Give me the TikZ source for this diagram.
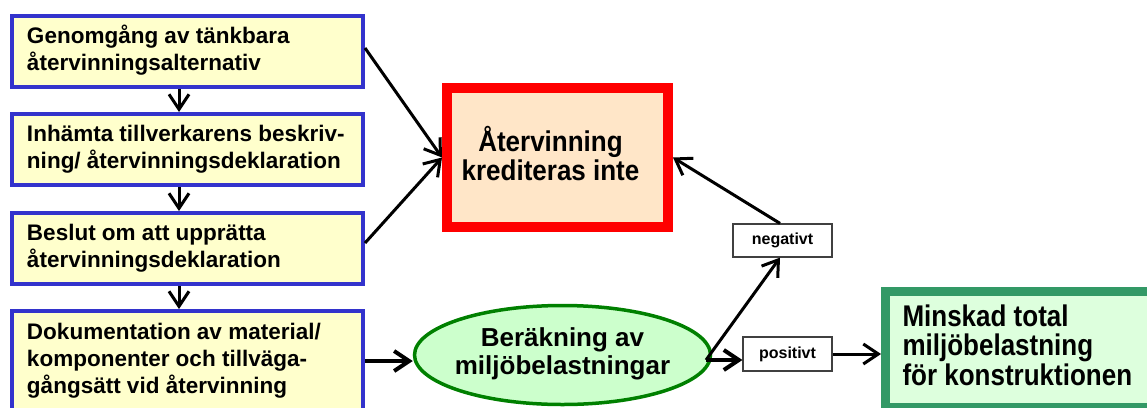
\documentclass[tikz,border=0pt]{standalone}
\usepackage{fontspec}
\setmainfont{Liberation Sans}
\usepackage{graphicx}
\usetikzlibrary{arrows.meta,shapes.geometric,calc}
\definecolor{bluebd}{RGB}{51,51,204}
\definecolor{yellowbg}{RGB}{255,255,204}
\definecolor{redbd}{RGB}{255,0,0}
\definecolor{peach}{RGB}{255,230,200}
\definecolor{ellbd}{RGB}{0,128,0}
\definecolor{ellbg}{RGB}{204,255,204}
\definecolor{grbd}{RGB}{51,153,102}
\definecolor{grbg}{RGB}{221,255,221}
\definecolor{tagbd}{RGB}{64,64,64}
\newcommand\bluetext[1]{\raisebox{-2pt}{\makebox[321pt][l]{\begin{tabular}{@{}l@{}}#1\end{tabular}}}}
\begin{document}
\begin{tikzpicture}[x=1pt,y=-1pt,
  stepbox/.style={draw=bluebd, fill=yellowbg, line width=4pt, minimum width=351pt,
    minimum height=71pt, inner xsep=15pt, inner ysep=0pt,
    font=\fontsize{22.5}{27}\selectfont\bfseries},
  redbox/.style={draw=redbd, fill=peach, line width=10pt, minimum width=221pt,
    minimum height=139pt, inner sep=0pt, font=\fontsize{26}{26.5}\selectfont\bfseries},
  ellbox/.style={ellipse, draw=ellbd, fill=ellbg, line width=3.5pt, minimum width=296pt,
    minimum height=99pt, inner sep=0pt, font=\fontsize{26}{27.5}\selectfont\bfseries},
  grbox/.style={draw=grbd, fill=grbg, line width=9pt, minimum width=294.5pt,
    minimum height=115.5pt, inner xsep=17pt, inner ysep=0pt,
    font=\fontsize{26}{24}\selectfont\bfseries},
  tagbox/.style={draw=tagbd, fill=white, line width=1.2pt, inner sep=0pt,
    font=\fontsize{16}{19}\selectfont\bfseries},
  arr/.style={line width=3pt, -{Straight Barb[length=15pt,width=20pt]}},
  arrthick/.style={line width=4pt, -{Straight Barb[length=15pt,width=20pt]}}
]
\useasboundingbox (0,0) rectangle (1147,407);
\clip (0,0) rectangle (1147,407);

% left column
\node[stepbox] (b1) at (187.5,51.5) {\bluetext{Genomgång av tänkbara\\återvinningsalternativ}};
\node[stepbox] (b2) at (187.5,149.5) {\bluetext{Inhämta tillverkarens beskriv-\\ning/ återvinningsdeklaration}};
\node[stepbox] (b3) at (187.5,248.5) {\bluetext{Beslut om att upprätta\\återvinningsdeklaration}};
\node[stepbox, minimum height=100pt] (b4) at (187.5,361) {\bluetext{Dokumentation av material/\\komponenter och tillväga-\\gångsätt vid återvinning}};

% red box
\node[redbox] (red) at (557.5,157.5) {\raisebox{-7pt}{\scalebox{1}[1.1]{\begin{tabular}{@{}c@{}}Återvinning\\krediteras inte\end{tabular}}\kern14pt}};

% ellipse
\node[ellbox] (ell) at (562.5,355) {\raisebox{-6pt}{\makebox[0pt]{\begin{tabular}{@{}c@{}}Beräkning av\\miljöbelastningar\end{tabular}}}};

% tags
\node[tagbox, minimum width=99pt, minimum height=33pt] (neg) at (782.5,240.5) {negativt};
\node[tagbox, minimum width=89pt, minimum height=34pt] (pos) at (787.5,354) {positivt};

% green box
\node[grbox] (green) at (1032.75,349.25) {\raisebox{-10pt}{\makebox[260.5pt][l]{\scalebox{1}[1.15]{\begin{tabular}{@{}l@{}}Minskad total\\miljöbelastning\\för konstruktionen\end{tabular}}}}};

% connectors
\draw[arr] ([xshift=-8.5pt]b1.south) -- ([xshift=-8.5pt]b2.north);
\draw[arr] ([xshift=-8.5pt]b2.south) -- ([xshift=-8.5pt]b3.north);
\draw[arr] ([xshift=-8.5pt]b3.south) -- ([xshift=-8.5pt]b4.north);
\draw[arr] ([yshift=3.5pt]b1.east) -- (red.west);
\draw[arr] ([yshift=5.5pt]b3.east) -- (red.west);
\draw[arr] ([xshift=-2.5pt]neg.north) -- (red.east);
\draw[arrthick] (b4.east) -- (b4.east -| ell.west);
\coordinate (split) at (706,360);
\draw[arr] (split) -- ([xshift=-2.5pt]neg.south);
\draw[arrthick] (split) -- (split -| pos.west);
\draw[arr] (pos.east) -- (pos.east -| green.west);
\end{tikzpicture}
\end{document}
